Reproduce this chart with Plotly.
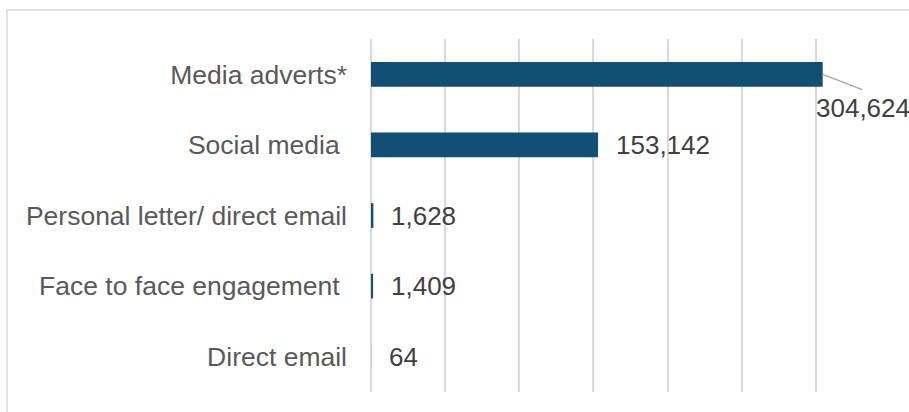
import plotly.graph_objects as go

# Reach by communication channel
channels = [
    "Media adverts*",
    "Social media\u00a0",
    "Personal letter/ direct email",
    "Face to face engagement\u00a0",
    "Direct email",
]
reach = [304624, 153142, 1628, 1409, 64]
x_ticks = [0, 50000, 100000, 150000, 200000, 250000, 300000, 350000]

# near-opaque fill so bar edges snap to whole pixels (sub-pixel bars stay blank)
BAR_COLOR = "rgba(17,79,116,0.999)"
GRID_COLOR = "#D9D9D9"
LABEL_COLOR = "#595959"
VALUE_COLOR = "#404040"
FONT = "Liberation Sans, Arial, sans-serif"

fig = go.Figure(
    go.Bar(
        x=reach,
        y=channels,
        orientation="h",
        marker=dict(color=BAR_COLOR, line=dict(width=0)),
        width=0.35,
        hoverinfo="skip",
    )
)

# Value labels: the largest bar gets a callout with a leader line
for i, (name, val) in enumerate(zip(channels, reach)):
    label = f"{val:,}"
    if i == 0:
        fig.add_annotation(
            x=val, y=name, text="",
            showarrow=True, arrowhead=0, arrowwidth=1.3, arrowcolor="#A6A6A6",
            ax=41, ay=16, standoff=0,
        )
        fig.add_annotation(
            x=val, y=name, text=label,
            showarrow=False, xanchor="center", xshift=40, yshift=-34,
            font=dict(size=26, color=VALUE_COLOR, family=FONT),
        )
    else:
        fig.add_annotation(
            x=val, y=name, text=label,
            showarrow=False, xanchor="left", xshift=16,
            font=dict(size=26, color=VALUE_COLOR, family=FONT),
        )

# Outer chart frame
fig.add_shape(
    type="rect", xref="paper", yref="paper",
    x0=-0.7013, x1=1.06, y0=-0.09, y1=1.0822,
    line=dict(color=GRID_COLOR, width=1.5),
    fillcolor="rgba(0,0,0,0)", layer="below",
)

fig.update_layout(
    width=909,
    height=412,
    margin=dict(l=371, r=19, t=39, b=20),
    paper_bgcolor="white",
    plot_bgcolor="white",
    showlegend=False,
    font=dict(family=FONT),
    xaxis=dict(
        range=[0, 350000],
        autorange=False,
        tickvals=x_ticks,
        showticklabels=False,
        showgrid=True,
        gridcolor=GRID_COLOR,
        gridwidth=1.5,
        zeroline=True,
        zerolinecolor=GRID_COLOR,
        zerolinewidth=1.5,
        showline=False,
        fixedrange=True,
    ),
    yaxis=dict(
        type="category",
        categoryorder="array",
        categoryarray=channels,
        range=[len(channels) - 0.5, -0.5],
        autorange=False,
        showgrid=False,
        ticks="",
        ticklabelstandoff=23,
        tickfont=dict(size=26.5, color=LABEL_COLOR, family=FONT),
        showline=False,
        fixedrange=True,
    ),
)

fig.write_html("out.html")
